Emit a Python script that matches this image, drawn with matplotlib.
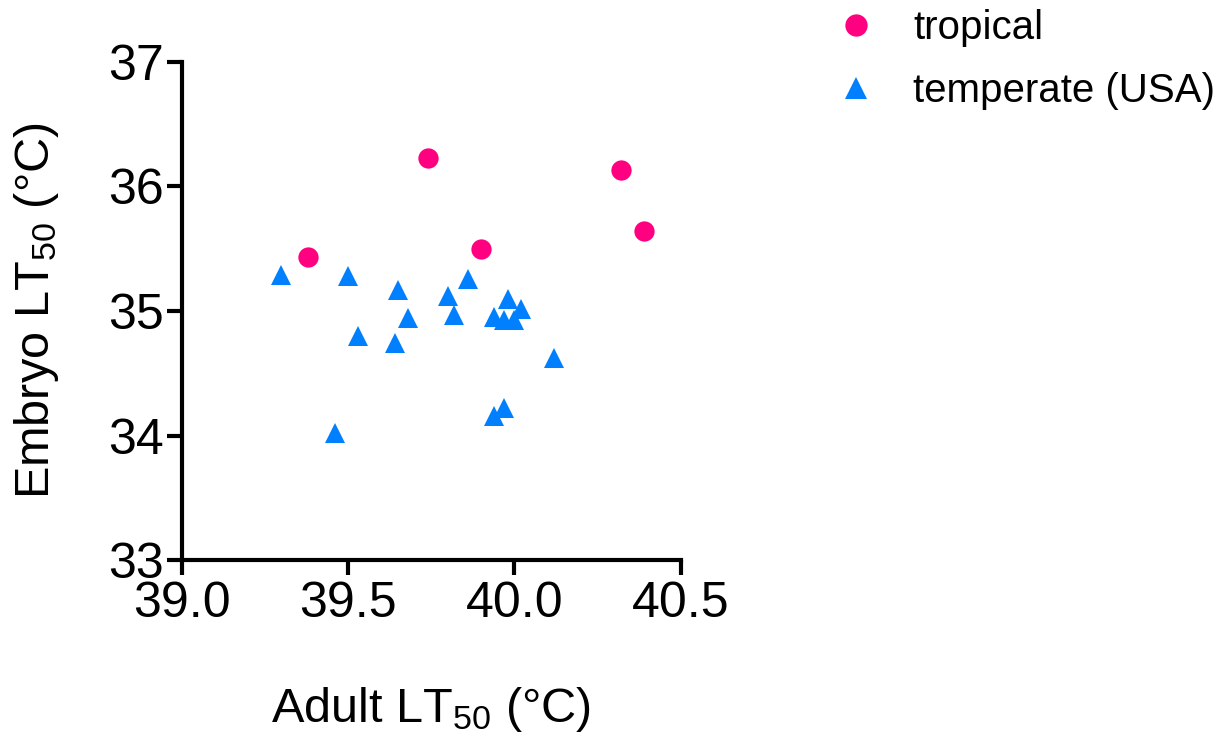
import matplotlib
matplotlib.use("Agg")
import matplotlib.pyplot as plt

plt.rcParams['font.family'] = ['Liberation Sans', 'DejaVu Sans']
plt.rcParams['mathtext.default'] = 'regular'

# data
trop_adult = [39.74, 39.38, 39.90, 40.32, 40.39]
trop_embryo = [36.23, 35.43, 35.50, 36.13, 35.64]

temp_adult = [39.30, 39.50, 39.65, 39.86, 39.80, 39.68, 39.82, 39.53, 39.64,
              40.12, 39.46, 39.97, 39.94, 39.98, 40.02, 39.94, 39.97, 40.00]
temp_embryo = [35.29, 35.28, 35.17, 35.26, 35.12, 34.94, 34.97, 34.80, 34.74,
               34.62, 34.02, 34.22, 34.16, 35.10, 35.02, 34.95, 34.93, 34.93]

xticks = [39.0, 39.5, 40.0, 40.5]
yticks = [33, 34, 35, 36, 37]

pink = '#FF0080'
blue = '#0080FF'

fig = plt.figure(figsize=(12.25, 7.36), dpi=100)
ax = fig.add_axes([0.1482, 0.2391, 0.4075, 0.6767])

ax.plot(trop_adult, trop_embryo, 'o', color=pink, markersize=14.6,
        markeredgewidth=0, label='tropical')
ax.plot(temp_adult, temp_embryo, '^', color=blue, markersize=14,
        markeredgewidth=0, label='temperate (USA)')

ax.set_xlim(39.0, 40.5)
ax.set_ylim(33, 37)
ax.set_xticks(xticks)
ax.set_xticklabels(['%.1f' % t for t in xticks])
ax.set_yticks(yticks)

for s in ['top', 'right']:
    ax.spines[s].set_visible(False)
for s in ['left', 'bottom']:
    ax.spines[s].set_linewidth(3)
    ax.spines[s].set_capstyle('projecting')

ax.tick_params(axis='both', width=3, length=11, labelsize=36, pad=2)
ax.tick_params(axis='x', pad=4)

ax.set_xlabel('Adult LT$_{50}$ (°C)', fontsize=35, labelpad=42)
ax.set_ylabel('Embryo LT$_{50}$ (°C)', fontsize=35, labelpad=34)

fig.legend(loc='upper left', bbox_to_anchor=(0.6824, 0.988), frameon=False,
           fontsize=29, handlelength=1.0, handletextpad=0.92,
           labelspacing=0.62, borderpad=0, borderaxespad=0, markerscale=1.1)

fig.savefig('out.png', dpi=100)
